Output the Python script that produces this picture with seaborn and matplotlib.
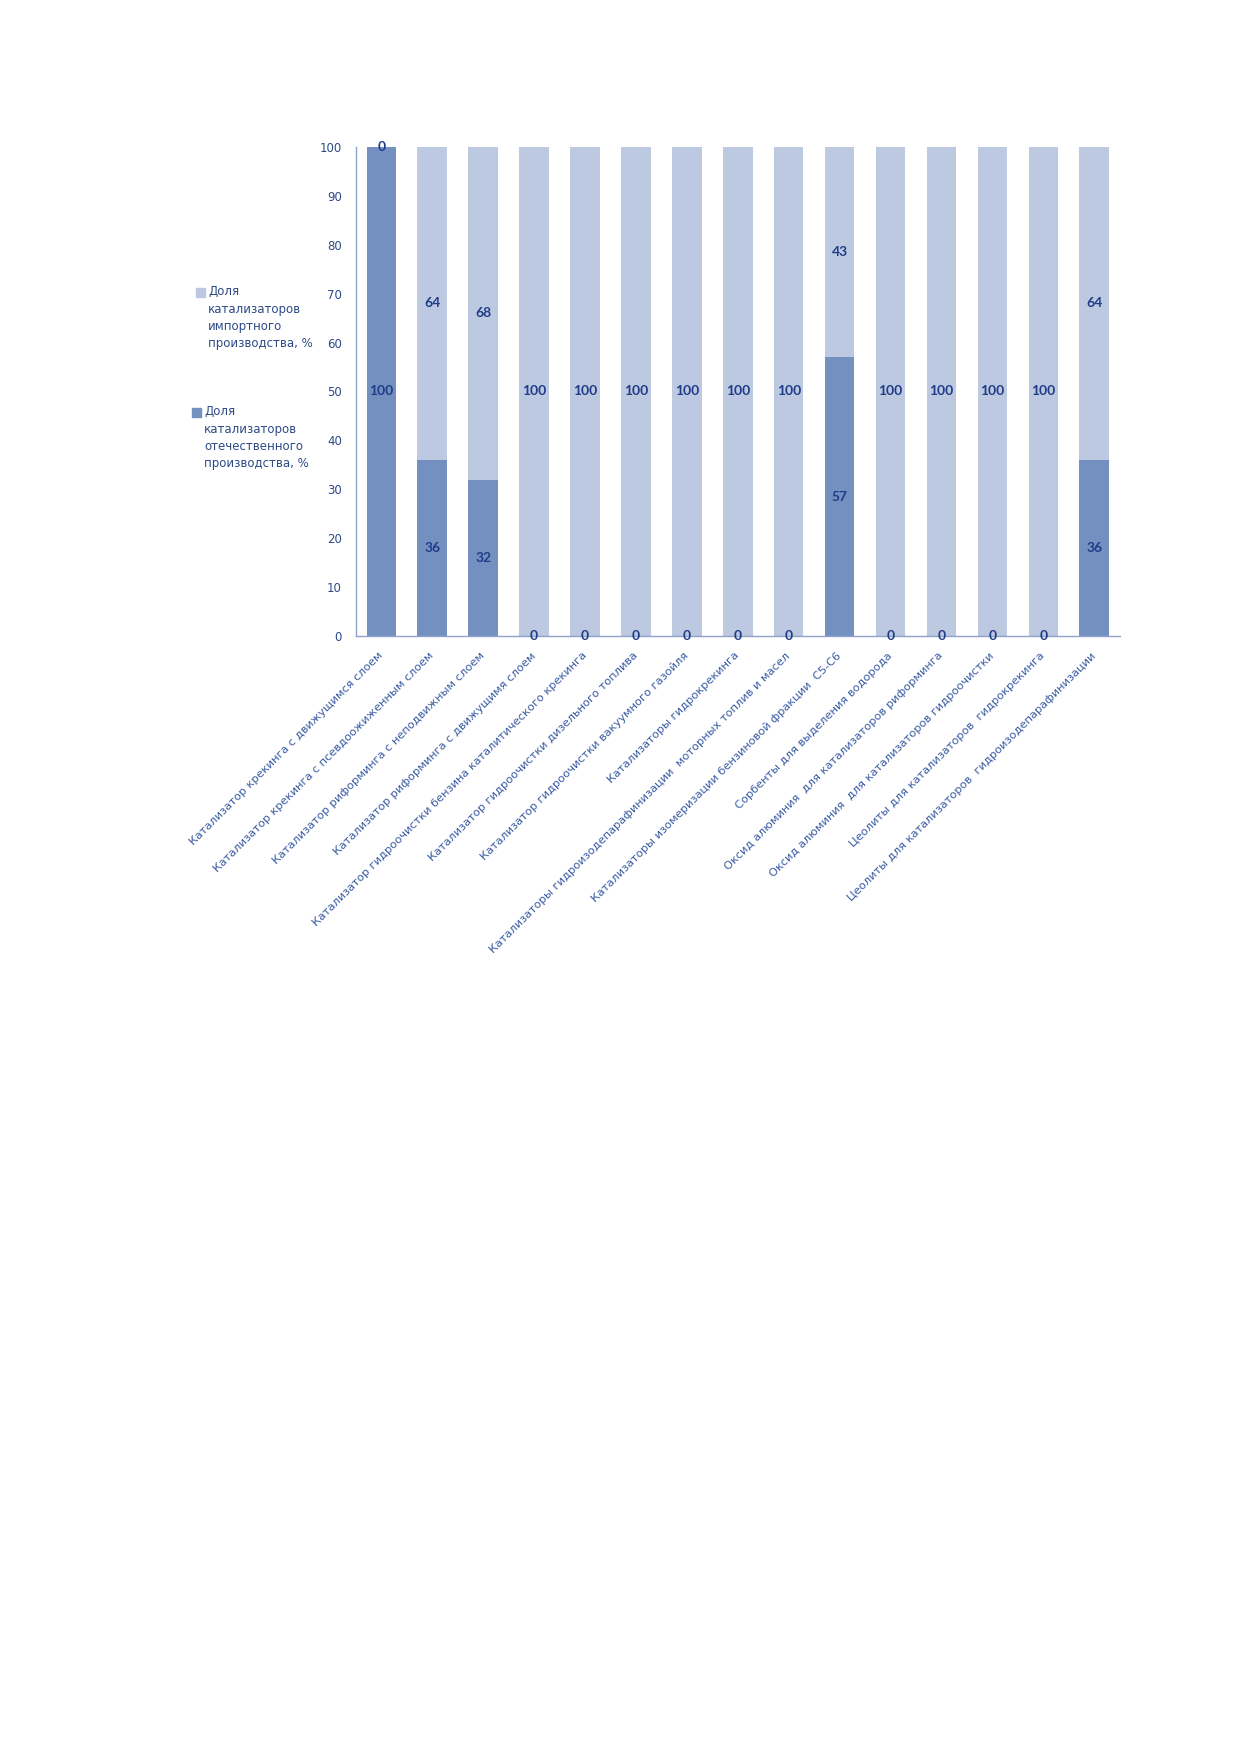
import pandas as pd
import seaborn as sns
import matplotlib.pyplot as plt
from matplotlib.patches import Rectangle

# данные
categories = [
    'Катализатор крекинга с движущимся слоем',
    'Катализатор крекинга с псевдоожиженным слоем',
    'Катализатор риформинга с неподвижным слоем',
    'Катализатор риформинга с движущимя слоем',
    'Катализатор гидроочистки бензина каталитического крекинга',
    'Катализатор гидроочистки дизельного топлива',
    'Катализатор гидроочистки вакуумного газойля',
    'Катализаторы гидрокрекинга',
    'Катализаторы гидроизодепарафинизации  моторных топлив и масел',
    'Катализаторы изомеризации бензиновой фракции  С5-С6',
    'Сорбенты для выделения водорода',
    'Оксид алюминия  для катализаторов риформинга',
    'Оксид алюминия  для катализаторов гидроочистки',
    'Цеолиты для катализаторов  гидрокрекинга',
    'Цеолиты для катализаторов  гидроизодепарафинизации',
]
domestic = [100, 36, 32, 0, 0, 0, 0, 0, 0, 57, 0, 0, 0, 0, 36]
imported = [0, 64, 68, 100, 100, 100, 100, 100, 100, 43, 100, 100, 100, 100, 64]
yticks = list(range(0, 101, 10))

label_imp = 'Доля\nкатализаторов\nимпортного\nпроизводства, %'
label_dom = 'Доля\nкатализаторов\nотечественного\nпроизводства, %'

col_dom = '#7490c1'
col_imp = '#bdc8e1'
txt_col = '#2e4a86'
lbl_col = '#1f3c88'

sns.set_theme(style='white')
plt.rcParams['font.family'] = ['DejaVu Sans']

df = pd.DataFrame({'cat': categories, 'dom': domestic, 'imp': imported})
df['total'] = df['dom'] + df['imp']

fig = plt.figure(figsize=(12.4, 17.54), dpi=100)
ax = fig.add_axes([0.287, 0.6374, 0.616, 0.2788])

sns.barplot(data=df, x='cat', y='total', color=col_imp, width=0.58,
            saturation=1, linewidth=0, edgecolor='none', ax=ax)
sns.barplot(data=df, x='cat', y='dom', color=col_dom, width=0.58,
            saturation=1, linewidth=0, edgecolor='none', ax=ax)

# подписи данных
for i, (d, m) in enumerate(zip(domestic, imported)):
    ax.text(i, d / 2, str(d), ha='center', va='center', fontsize=10,
            fontweight='bold', color=lbl_col, family=['Lato', 'DejaVu Sans'])
    ax.text(i, d + m / 2, str(m), ha='center', va='center', fontsize=10,
            fontweight='bold', color=lbl_col, family=['Lato', 'DejaVu Sans'])

ax.set_ylim(0, 100)
ax.set_xlim(-0.5, len(categories) - 0.5)
ax.set_yticks(yticks)
ax.set_xlabel('')
ax.set_ylabel('')
ax.tick_params(axis='y', length=0, pad=10, labelsize=8.5, labelcolor=txt_col)
ax.tick_params(axis='x', length=0, pad=13, labelsize=8.2, labelcolor='#3a5ba3')
for lab in ax.get_xticklabels():
    lab.set_rotation(45)
    lab.set_ha('right')
    lab.set_va('center')
    lab.set_rotation_mode('anchor')

for s in ['top', 'right']:
    ax.spines[s].set_visible(False)
for s in ['left', 'bottom']:
    ax.spines[s].set_color('#8fa2c9')
    ax.spines[s].set_linewidth(1)

# легенда
fig.patches.append(Rectangle((196 / 1240, 1 - 297 / 1754), 9 / 1240, 9 / 1754,
                             transform=fig.transFigure, color=col_imp))
fig.text(208 / 1240, 1 - 285 / 1754, label_imp, ha='left', va='top',
         fontsize=8.5, color=txt_col, linespacing=1.45)
fig.patches.append(Rectangle((192 / 1240, 1 - 417 / 1754), 9 / 1240, 9 / 1754,
                             transform=fig.transFigure, color=col_dom))
fig.text(204 / 1240, 1 - 405 / 1754, label_dom, ha='left', va='top',
         fontsize=8.5, color=txt_col, linespacing=1.45)

fig.savefig('out.png', dpi=100)
